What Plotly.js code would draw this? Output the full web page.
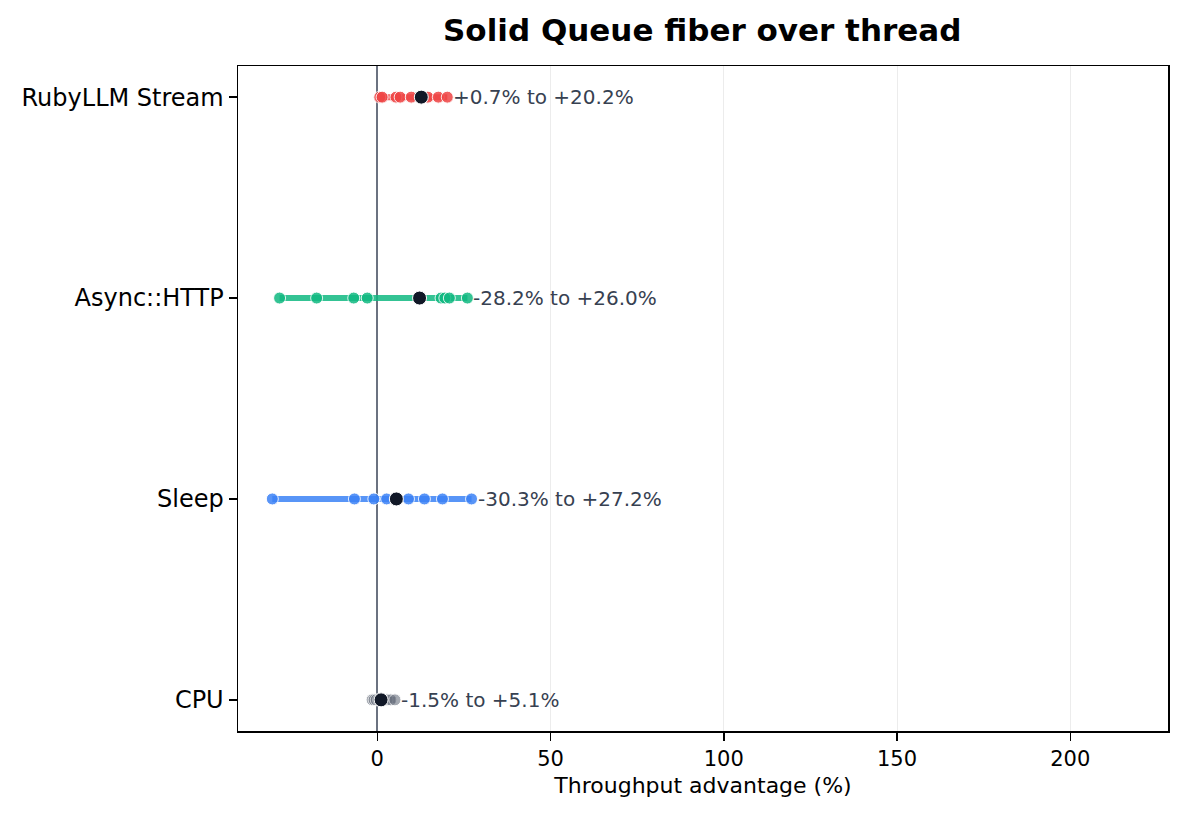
<!DOCTYPE html>
<html>
<head>
<meta charset="utf-8">
<script src="https://cdn.plot.ly/plotly-3.0.1.min.js"></script>
<style>
  body { margin: 0; background: #fff; }
  #chart { width: 1184px; height: 817px; }
</style>
</head>
<body>
<div id="chart"></div>
<script>
// workloads, bottom to top
const workloads = ['CPU', 'Sleep', 'Async::HTTP', 'RubyLLM Stream'];
const colors = ['#6b7280', '#3b82f6', '#10b981', '#ef4444'];

// per-run throughput advantage (%)
const cpuRuns = [-1.5, -0.9, -0.3, 0.4, 1.6, 2.8, 3.9, 5.1];
const sleepRuns = [-30.3, -6.6, -1.0, 2.7, 9.0, 13.6, 18.8, 27.2];
const httpRuns = [-28.2, -17.5, -6.8, -2.9, 18.4, 19.5, 20.8, 26.0];
const streamRuns = [0.7, 1.4, 5.4, 6.6, 9.8, 14.6, 17.6, 20.2];
const runs = [cpuRuns, sleepRuns, httpRuns, streamRuns];

// black centre dot of each row
const centers = [1.1, 5.5, 12.2, 12.7];

const data = [];

workloads.forEach((w, i) => {
    const vals = runs[i];
    const lo = Math.min(...vals);
    const hi = Math.max(...vals);

    // range bar
    data.push({
        x: [lo, hi],
        y: [w, w],
        type: 'scatter',
        mode: 'lines',
        line: {color: colors[i], width: 6},
        opacity: 0.85,
        hoverinfo: 'skip',
        showlegend: false
    });

    // individual runs
    data.push({
        x: vals,
        y: vals.map(() => w),
        type: 'scatter',
        mode: 'markers',
        marker: {
            color: colors[i],
            size: 12,
            opacity: i === 0 ? 0.6 : 0.85,
            line: {color: '#ffffff', width: 1}
        },
        name: w,
        showlegend: false
    });
});

// centre dots
data.push({
    x: centers,
    y: workloads,
    type: 'scatter',
    mode: 'markers',
    marker: {color: '#111827', size: 14, line: {color: '#ffffff', width: 1}},
    showlegend: false
});

const fmt = v => (v >= 0 ? '+' : '') + v.toFixed(1) + '%';

const annotations = workloads.map((w, i) => {
    const lo = Math.min(...runs[i]);
    const hi = Math.max(...runs[i]);
    return {
        x: hi,
        y: w,
        xref: 'x',
        yref: 'y',
        text: fmt(lo) + ' to ' + fmt(hi),
        showarrow: false,
        xanchor: 'left',
        yanchor: 'middle',
        xshift: 4,
        font: {family: 'DejaVu Sans', size: 20, color: '#374151'}
    };
});

const layout = {
    width: 1184,
    height: 817,
    paper_bgcolor: '#ffffff',
    plot_bgcolor: '#ffffff',
    font: {family: 'DejaVu Sans', color: '#000000'},
    margin: {l: 238, r: 16, t: 66, b: 86},
    title: {
        text: '<b>Solid Queue fiber over thread</b>',
        font: {family: 'DejaVu Sans', size: 31, color: '#000000'},
        x: 0.5931,
        xanchor: 'center',
        y: 0.963,
        yanchor: 'middle'
    },
    xaxis: {
        range: [-40.2, 228.2],
        tickvals: [0, 50, 100, 150, 200],
        ticks: 'outside',
        ticklen: 8,
        tickwidth: 1.5,
        tickcolor: '#000',
        tickfont: {size: 21, color: '#000'},
        showgrid: true,
        gridcolor: '#ececec',
        gridwidth: 1,
        zeroline: true,
        zerolinecolor: '#6b7280',
        zerolinewidth: 2,
        showline: true,
        linecolor: '#000',
        linewidth: 1.5,
        mirror: true,
        title: {text: 'Throughput advantage (%)', font: {size: 22, color: '#000'}, standoff: 8}
    },
    yaxis: {
        type: 'category',
        categoryorder: 'array',
        categoryarray: workloads,
        range: [-0.155, 3.155],
        ticks: 'outside',
        ticklen: 8,
        tickwidth: 1.5,
        tickcolor: '#000',
        tickfont: {size: 24, color: '#000'},
        showgrid: false,
        zeroline: false,
        showline: true,
        linecolor: '#000',
        linewidth: 1.5,
        mirror: true
    },
    annotations: annotations,
    showlegend: false
};

Plotly.newPlot('chart', data, layout, {displayModeBar: false, staticPlot: true});
</script>
</body>
</html>
